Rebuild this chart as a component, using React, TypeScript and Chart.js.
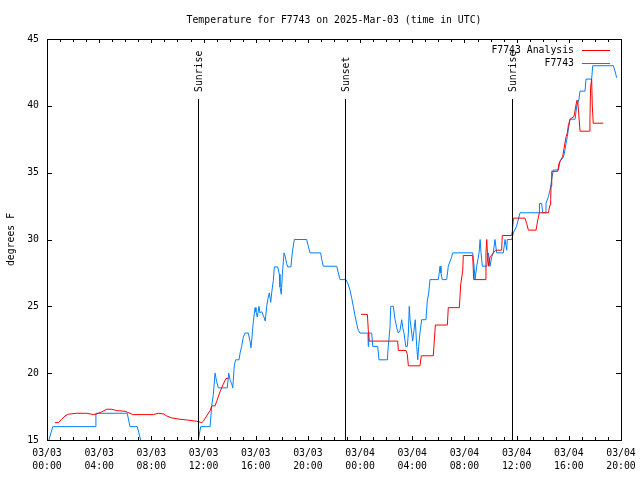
import React, { useEffect, useRef } from "react";
import { Chart, registerables } from "chart.js";

Chart.register(...registerables);

const TITLE = "Temperature for F7743 on 2025-Mar-03 (time in UTC)";
const Y_TITLE = "degrees F";
const SERIES_NAMES = ["F7743 Analysis", "F7743"];
const SERIES_COLORS = ["#ff0000", "#0080ff"];

// hours since 03/03 00:00 UTC
const xTickLabels = [
  ["03/03", "00:00"], ["03/03", "04:00"], ["03/03", "08:00"], ["03/03", "12:00"],
  ["03/03", "16:00"], ["03/03", "20:00"], ["03/04", "00:00"], ["03/04", "04:00"],
  ["03/04", "08:00"], ["03/04", "12:00"], ["03/04", "16:00"], ["03/04", "20:00"],
];

const eventNames = ["Sunrise", "Sunset", "Sunrise"];
const eventHours = [11.57, 22.84, 35.63];

const obsHours = [
  0.15, 0.44, 3.7, 3.75, 6.15, 6.36, 6.92, 7.18, 7.3, 11.45, 11.6, 11.78, 12.5,
  12.63, 12.75, 12.88, 13.0, 13.13, 13.82, 13.93, 14.03, 14.16, 14.24, 14.36, 14.46,
  14.72, 14.8, 14.92, 15.05, 15.18, 15.43, 15.56, 15.64, 15.74, 15.82, 15.95, 16.02,
  16.12, 16.25, 16.33, 16.46, 16.63, 16.73, 16.84, 16.94, 17.04, 17.15, 17.22, 17.35,
  17.43, 17.68, 17.81, 17.86, 17.96, 18.04, 18.17, 18.27, 18.37, 18.45, 18.7, 18.8,
  18.96, 19.9, 20.03, 20.16, 20.98, 21.06, 21.18, 22.21, 22.33, 22.46, 22.92, 23.1,
  23.23, 23.36, 23.48, 23.61, 23.74, 23.86, 23.99, 24.6, 24.63, 24.66, 24.89, 24.97,
  25.35, 25.4, 25.45, 26.09, 26.16, 26.29, 26.35, 26.55, 26.68, 26.81, 26.93, 27.06,
  27.19, 27.27, 27.37, 27.5, 27.62, 27.7, 27.77, 27.83, 27.96, 28.03, 28.13, 28.23,
  28.34, 28.42, 28.49, 28.59, 28.72, 29.05, 29.15, 29.26, 29.36, 30.0, 30.13, 30.2,
  30.3, 30.64, 30.76, 31.02, 31.1, 32.63, 32.74, 32.81, 32.94, 33.12, 33.2, 33.27,
  33.37, 33.71, 33.83, 33.96, 34.09, 34.21, 34.34, 34.47, 34.98, 35.11, 35.24, 35.28,
  35.62, 35.75, 36.0, 36.26, 37.74, 37.75, 37.92, 38.0, 38.18, 38.25, 38.43, 38.56,
  38.69, 38.81, 39.2, 39.33, 39.55, 39.65, 39.79, 39.89, 39.96, 40.09, 40.48, 40.61,
  40.78, 40.86, 41.24, 41.32, 41.75, 41.83, 43.41, 43.54, 43.67,
];
const obsTemps = [
  15.0, 16.0, 16.0, 17.0, 17.0, 16.0, 16.0, 15.0, 14.0, 14.0, 15.0, 16.0, 16.0,
  17.6, 18.4, 20.0, 19.4, 18.9, 18.9, 20.0, 19.5, 19.2, 18.9, 20.6, 21.0,
  21.0, 21.5, 22.0, 22.7, 23.0, 23.0, 22.4, 21.9, 23.0, 23.9, 24.9, 24.6,
  24.2, 25.0, 24.5, 24.6, 24.2, 23.9, 25.0, 25.6, 26.0, 25.3, 26.0, 26.95,
  27.95, 27.95, 27.4, 26.45, 25.9, 27.4, 29.0, 28.7, 28.2, 27.95, 27.95, 29.0,
  30.0, 30.0, 29.5, 29.0, 29.0, 28.5, 28.0, 28.0, 27.5, 27.0, 27.0, 26.6,
  26.2, 25.6, 25.0, 24.3, 23.7, 23.2, 23.0, 23.0, 22.0, 23.0, 23.0, 22.0,
  22.0, 21.5, 21.0, 21.0, 22.0, 23.4, 25.0, 25.0, 24.0, 23.4, 23.0, 23.2,
  24.0, 23.4, 23.0, 22.0, 22.0, 23.0, 25.0, 24.0, 23.0, 22.4, 23.2, 24.0,
  22.0, 21.0, 22.0, 23.0, 24.0, 24.0, 25.4, 26.0, 27.0, 27.0, 28.0, 27.5,
  27.0, 27.0, 28.0, 28.7, 29.0, 29.0, 28.0, 27.0, 28.0, 29.0, 30.0, 29.0,
  28.0, 28.0, 29.0, 28.0, 28.7, 29.0, 30.0, 29.0, 29.0, 30.0, 29.2, 30.0,
  30.0, 30.5, 31.0, 32.0, 32.0, 32.7, 32.7, 32.0, 32.0, 32.7, 33.2, 33.7,
  34.5, 35.2, 35.2, 35.9, 36.1, 36.4, 37.2, 37.7, 38.2, 39.0, 39.0, 40.0,
  40.5, 41.1, 41.1, 42.0, 42.0, 43.0, 43.0, 42.6, 42.1,
];

const anaHours = [
  0.61, 0.87, 1.13, 1.38, 1.63, 2.28, 3.04, 3.55, 3.81, 4.19, 4.57, 4.96, 5.34,
  5.98, 6.36, 6.57, 8.15, 8.53, 8.92, 9.18, 9.56, 10.2, 10.71, 11.47, 11.86, 11.98,
  12.24, 12.5, 12.63, 12.88, 13.01, 13.26, 13.52, 13.72, 13.9, 19.0,
  24.07, 24.56, 24.63, 24.7, 26.88, 26.93, 27.52, 27.62, 27.7, 28.59, 28.69, 29.61,
  29.77, 30.69, 30.76, 31.61, 31.71, 31.87, 31.91, 32.63, 32.71, 33.58, 33.65, 33.71,
  33.76, 33.86, 33.96, 34.4, 34.85, 34.9, 35.62, 35.67, 35.75, 36.64, 36.77, 36.9,
  37.49, 37.59, 37.74, 38.43, 38.56, 38.61, 38.64, 38.69, 39.15, 39.25, 39.53, 39.63,
  39.79, 39.89, 39.96, 40.09, 40.4, 40.61, 40.68, 40.86, 41.57, 41.62, 41.67, 41.75,
  41.8, 41.87, 42.64,
];
const anaTemps = [
  16.3, 16.3, 16.55, 16.8, 16.93, 17.0, 17.0, 16.9, 16.95, 17.1, 17.3, 17.3, 17.2,
  17.15, 17.0, 16.9, 16.9, 17.0, 16.95, 16.8, 16.65, 16.55, 16.5, 16.4, 16.3, 16.4,
  16.8, 17.2, 17.55, 17.55, 17.9, 18.6, 19.2, 19.6, 19.6, null,
  24.4, 24.4, 23.2, 22.4, 22.4, 21.7, 21.7, 21.4, 20.55, 20.55, 21.3, 21.3,
  23.6, 23.6, 24.9, 24.9, 26.6, 27.7, 28.8, 28.8, 27.0, 27.0, 29.0, 30.0,
  29.0, 28.0, 28.7, 29.2, 29.2, 30.3, 30.3, 30.6, 31.6, 31.6, 31.2, 30.7,
  30.7, 31.3, 32.0, 32.0, 32.6, 33.0, 34.0, 35.1, 35.1, 35.7, 36.2, 36.8,
  37.7, 38.0, 38.5, 39.0, 39.2, 40.4, 40.4, 38.1, 38.1, 39.0, 41.4, 42.0,
  40.0, 38.7, 38.7,
];

const FONT = "DejaVu Sans Mono";
const FONT_SIZE = 9.8;

const toPoints = (xs: number[], ys: (number | null)[]) =>
  xs.map((x, i) => ({ x, y: ys[i] }));

const framePlugin = {
  id: "gnuplotFrame",
  afterDatasetsDraw(chart: any) {
    const { ctx, chartArea: a, scales } = chart;
    const xs = scales.x;
    const ys = scales.y;
    ctx.save();
    ctx.strokeStyle = "#000";
    ctx.lineWidth = 1;
    // event lines
    ctx.font = `${FONT_SIZE}px ${FONT}`;
    ctx.fillStyle = "#000";
    eventHours.forEach((h, i) => {
      const px = Math.round(xs.getPixelForValue(h)) + 0.5;
      ctx.beginPath();
      ctx.moveTo(px, a.bottom);
      ctx.lineTo(px, a.top + 60);
      ctx.stroke();
      ctx.save();
      ctx.translate(px + 1, a.top + 53);
      ctx.rotate(-Math.PI / 2);
      ctx.textAlign = "left";
      ctx.textBaseline = "middle";
      ctx.fillText(eventNames[i], 0, 0);
      ctx.restore();
    });
    // frame
    ctx.strokeRect(Math.round(a.left) + 0.5, Math.round(a.top) + 0.5,
      Math.round(a.right - a.left), Math.round(a.bottom - a.top));
    // x ticks (hourly, majors every 4h)
    for (let h = 0; h <= 44; h++) {
      const px = Math.round(xs.getPixelForValue(h)) + 0.5;
      const len = h % 4 === 0 ? 4 : 3;
      ctx.beginPath();
      ctx.moveTo(px, a.bottom);
      ctx.lineTo(px, a.bottom - len);
      ctx.moveTo(px, a.top);
      ctx.lineTo(px, a.top + len);
      ctx.stroke();
    }
    // y ticks
    for (let v = 15; v <= 45; v += 5) {
      const py = Math.round(ys.getPixelForValue(v)) + 0.5;
      ctx.beginPath();
      ctx.moveTo(a.left, py);
      ctx.lineTo(a.left + 5, py);
      ctx.moveTo(a.right, py);
      ctx.lineTo(a.right - 5, py);
      ctx.stroke();
    }
    // title
    ctx.textAlign = "center";
    ctx.textBaseline = "middle";
    ctx.fillText(TITLE, (a.left + a.right) / 2, 20);
    // y title
    ctx.save();
    ctx.translate(11, (a.top + a.bottom) / 2);
    ctx.rotate(-Math.PI / 2);
    ctx.fillText(Y_TITLE, 0, 0);
    ctx.restore();
    // legend
    SERIES_NAMES.forEach((name, i) => {
      const y = a.top + 11 + i * 13;
      ctx.textAlign = "right";
      ctx.fillStyle = "#000";
      ctx.fillText(name, a.right - 47, y);
      ctx.strokeStyle = SERIES_COLORS[i];
      ctx.beginPath();
      ctx.moveTo(a.right - 39, Math.round(y) + 0.5);
      ctx.lineTo(a.right - 11, Math.round(y) + 0.5);
      ctx.stroke();
    });
    ctx.restore();
  },
};

export default function App() {
  const ref = useRef<HTMLCanvasElement | null>(null);
  useEffect(() => {
    if (!ref.current) return;
    const chart = new Chart(ref.current, {
      type: "line",
      data: {
        datasets: [
          {
            label: SERIES_NAMES[0],
            data: toPoints(anaHours, anaTemps) as any,
            borderColor: SERIES_COLORS[0],
            borderWidth: 1,
            pointRadius: 0,
            spanGaps: false,
            tension: 0,
          },
          {
            label: SERIES_NAMES[1],
            data: toPoints(obsHours, obsTemps) as any,
            borderColor: SERIES_COLORS[1],
            borderWidth: 1,
            pointRadius: 0,
            tension: 0,
          },
        ],
      },
      options: {
        animation: false,
        responsive: false,
        maintainAspectRatio: false,
        layout: { padding: { left: 0, top: 39, right: 19, bottom: 0 } },
        plugins: { legend: { display: false }, title: { display: false }, tooltip: { enabled: false } },
        scales: {
          x: {
            type: "linear",
            min: 0,
            max: 44,
            grid: { display: false, drawTicks: false },
            border: { display: false },
            ticks: {
              stepSize: 4,
              autoSkip: false,
              maxRotation: 0,
              padding: 7,
              color: "#000",
              font: { family: FONT, size: FONT_SIZE, lineHeight: 1.32 },
              callback: (_v: any, i: number) => xTickLabels[i],
            },
            afterFit: (s: any) => { s.height = 40; s.paddingLeft = 0; s.paddingRight = 0; },
          },
          y: {
            min: 15,
            max: 45,
            grid: { display: false, drawTicks: false },
            border: { display: false },
            ticks: {
              stepSize: 5,
              padding: 8,
              color: "#000",
              font: { family: FONT, size: FONT_SIZE },
            },
            afterFit: (s: any) => { s.width = 47; s.paddingTop = 0; s.paddingBottom = 0; },
          },
        },
      },
      plugins: [framePlugin],
    });
    return () => chart.destroy();
  }, []);
  return (
    <div style={{ position: "fixed", left: 0, top: 0, width: 640, height: 480, background: "#fff" }}>
      <canvas ref={ref} width={640} height={480} style={{ width: 640, height: 480 }} />
    </div>
  );
}
